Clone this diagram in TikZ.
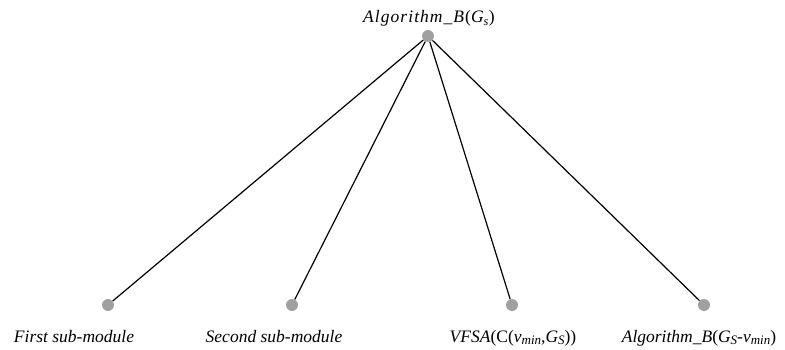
\documentclass[tikz,border=0pt]{standalone}
\usepackage{fontspec}
\setmainfont{Liberation Serif}
\usetikzlibrary{positioning}
\definecolor{dotgray}{HTML}{A0A0A0}

\newcommand{\sub}[1]{\textsubscript{\textit{#1}}}
\newcommand{\lowsub}[1]{\raisebox{-0.25ex}{\fontsize{13}{13}\selectfont\itshape #1}}

\begin{document}
\begin{tikzpicture}[
  x=1pt, y=-1pt,
  % Node styles
  vertex/.style={
    circle,
    fill=dotgray,
    minimum size=12pt,
    inner sep=0pt,
  },
  label text/.style={
    font=\fontsize{17.5}{20}\selectfont\itshape,
    inner sep=0pt,
    anchor=base,
  },
  root text/.style={
    label text,
    font=\fontsize{17.5}{20}\selectfont\itshape\addfontfeature{LetterSpace=6},
  },
  % Edge style
  edge/.style={
    draw=black,
    line width=1.2pt,
  },
]
  \useasboundingbox (0,0) rectangle (785,350);

  % Root
  \node[vertex] (root) at (428,36) {};
  \node[root text] (root-label) at (429,23) {Algorithm\_B\textup{(}G\sub{s}\textup{)}};

  % Children
  \node[vertex] (C-1) at (108,305) {};
  \node[vertex] (C-2) at (292,305) {};
  \node[vertex] (C-3) at (512,305) {};
  \node[vertex] (C-4) at (704,305) {};

  % Child labels
  \node[label text] (L-1) at (74,342) {First sub-module};
  \node[label text] (L-2) at (274,342) {Second sub-module};
  \node[label text] (L-3) at (513,342) {VFSA\textup{(C(}v\lowsub{min}\textup{,}G\lowsub{S}\textup{))}};
  \node[label text] (L-4) at (699,342) {Algorithm\_B\textup{(}G\lowsub{S}-v\lowsub{min}\textup{)}};

  % Edges: root -> children
  \foreach \i in {1,...,4} {
    \draw[edge] (root) -- (C-\i);
  }

\end{tikzpicture}
\end{document}
